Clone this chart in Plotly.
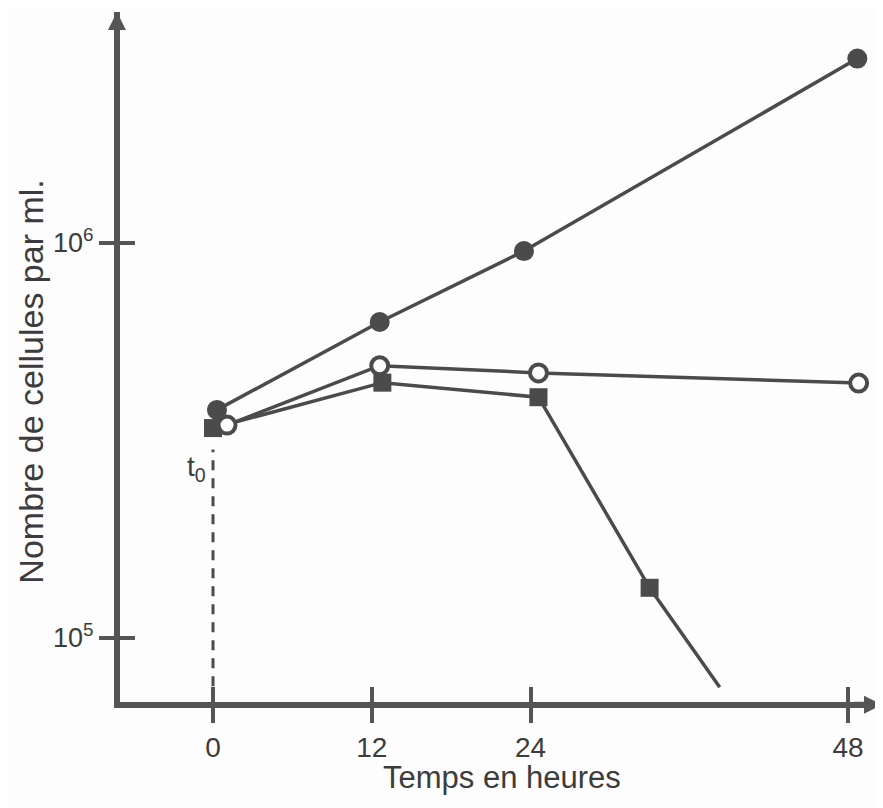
import plotly.graph_objects as go

# ---- data ----
# filled circles
t_filled = [0.3, 12.6, 23.5, 48.7]
n_filled = [3.78e5, 6.31e5, 9.54e5, 2.93e6]
# open circles
t_open = [1.06, 12.6, 24.6, 48.8]
n_open = [3.46e5, 4.89e5, 4.69e5, 4.42e5]
# filled squares (last point = end of line, no marker)
t_square = [0.0, 12.8, 24.6, 33.0, 38.3]
n_square = [3.40e5, 4.43e5, 4.07e5, 1.34e5, 7.5e4]
square_marker_sizes = [18, 18, 18, 18, 0]
# t0 reference line
t0_line_x = [0, 0]
t0_line_y = [6.8e4, 3.0e5]

x_ticks = [0, 12, 24, 48]
x_tick_labels = ["0", "12", "24", "48"]
y_ticks = [1e5, 1e6]
y_tick_labels = ["10<sup>5</sup>", "10<sup>6</sup>"]

x_range = [-7.03, 50.64]
y_range = [4.838, 6.5848]

LINE = "#4b4b4b"
AX = "#555555"
TXT = "#3c3c3c"
FONT = "Liberation Sans, Arial, sans-serif"
BG = "#fdfdfd"

fig = go.Figure()

fig.add_trace(go.Scatter(
    x=t0_line_x, y=t0_line_y, mode="lines",
    line=dict(color=LINE, width=3, dash="10px,8px"), hoverinfo="skip"))

fig.add_trace(go.Scatter(
    x=t_square, y=n_square, mode="lines+markers",
    line=dict(color=LINE, width=3.5),
    marker=dict(symbol="square", size=square_marker_sizes, color=LINE,
                opacity=1, line=dict(width=0))))

fig.add_trace(go.Scatter(
    x=t_open, y=n_open, mode="lines+markers",
    line=dict(color=LINE, width=3.5),
    marker=dict(symbol="circle", size=17, color="white", opacity=1,
                line=dict(color=LINE, width=4))))

# drawn on the overlaid twin axes (same ranges) so that their crossing ticks show
fig.add_trace(go.Scatter(
    x=t_filled, y=n_filled, mode="lines+markers", xaxis="x2", yaxis="y2",
    line=dict(color=LINE, width=3.5),
    marker=dict(symbol="circle", size=20, color=LINE, opacity=1)))

common_axis = dict(showgrid=False, zeroline=False)
TL = 15

fig.update_layout(
    width=875, height=800,
    margin=dict(l=112, r=0, t=4, b=106, pad=0),
    paper_bgcolor=BG, plot_bgcolor=BG,
    showlegend=False,
    font=dict(family=FONT, color=TXT),
    xaxis=dict(range=x_range, tickvals=x_ticks, ticktext=x_tick_labels,
               ticks="outside", ticklen=TL, tickwidth=4, tickcolor=AX,
               showline=True, linewidth=6, linecolor=AX,
               tickfont=dict(size=28, color=TXT, family=FONT),
               **common_axis),
    xaxis2=dict(range=x_range, overlaying="x", anchor="y2", side="bottom",
                tickvals=x_ticks, ticks="inside", ticklen=TL, tickwidth=4,
                tickcolor=AX, showticklabels=False, showline=False,
                **common_axis),
    yaxis=dict(type="log", range=y_range, tickvals=y_ticks, ticktext=y_tick_labels,
               ticks="outside", ticklen=TL, tickwidth=4, tickcolor=AX,
               showline=True, linewidth=6, linecolor=AX,
               tickfont=dict(size=27, color=TXT, family=FONT),
               **common_axis),
    yaxis2=dict(type="log", range=y_range, overlaying="y", anchor="x2", side="left",
                tickvals=y_ticks, ticks="inside", ticklen=TL, tickwidth=4,
                tickcolor=AX, showticklabels=False, showline=False,
                **common_axis),
)

annotations = [
    # axis titles
    dict(text="Temps en heures", xref="paper", yref="paper", x=0.5, y=-0.11,
         xanchor="center", yanchor="middle", showarrow=False,
         font=dict(size=31, color=TXT, family=FONT)),
    dict(text="Nombre de cellules par ml.", xref="paper", yref="paper",
         x=-0.116, y=0.465, xanchor="center", yanchor="middle",
         textangle=-90, showarrow=False,
         font=dict(size=34, color=TXT, family=FONT)),
    # t0 label
    dict(text="t<sub>0</sub>", xref="x", yref="y", x=0, y=5.43,
         xanchor="right", yanchor="middle", xshift=-5, showarrow=False,
         font=dict(size=28, color=TXT, family=FONT)),
    # arrow heads on the axes
    dict(text="", xref="paper", yref="paper", x=-0.004, y=1, ax=0, ay=30,
         showarrow=True, arrowhead=2, arrowsize=0.6, arrowwidth=6,
         arrowcolor=AX),
    dict(text="", xref="paper", yref="paper", x=1, y=-0.004, ax=-30, ay=0,
         showarrow=True, arrowhead=2, arrowsize=0.6, arrowwidth=6,
         arrowcolor=AX),
]
fig.update_layout(annotations=annotations)

fig.write_html("out.html")
